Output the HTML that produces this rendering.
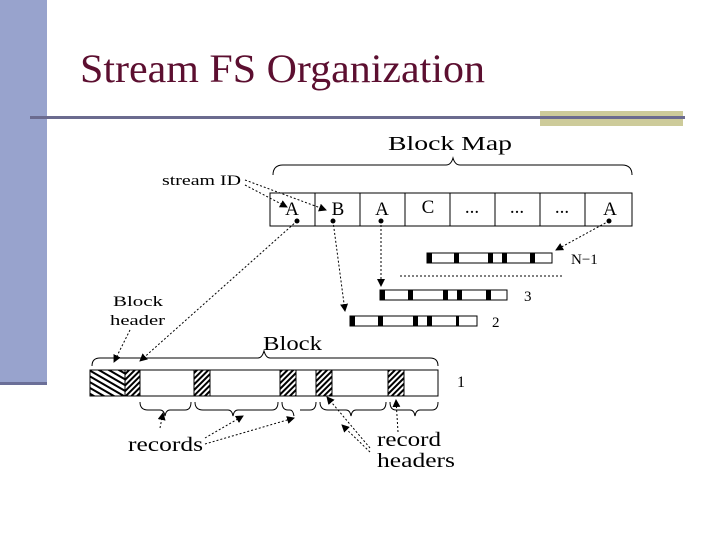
<!DOCTYPE html>
<html><head><meta charset="utf-8"><style>
html,body{margin:0;padding:0;background:#fff;width:720px;height:540px;overflow:hidden}
svg{display:block}
</style></head><body>
<svg width="720" height="540" viewBox="0 0 720 540" xmlns="http://www.w3.org/2000/svg" font-family="Liberation Serif, serif">
<defs>
<pattern id="h1" width="5" height="5" patternUnits="userSpaceOnUse" patternTransform="rotate(30)"><rect width="5" height="5" fill="#fff"/><rect width="5" height="2" fill="#000"/></pattern>
<pattern id="h2" width="4" height="4" patternUnits="userSpaceOnUse" patternTransform="rotate(-45)"><rect width="4" height="4" fill="#fff"/><rect width="4" height="2" fill="#000"/></pattern>
<marker id="ar" markerWidth="8" markerHeight="8" refX="7" refY="4" orient="auto" markerUnits="userSpaceOnUse"><path d="M0,0 L8,4 L0,8 z" fill="#000"/></marker>
</defs>
<rect x="0" y="0" width="47" height="385" fill="#98a3cd"/>
<rect x="0" y="382" width="47" height="3" fill="#6b6f98"/>
<text x="80" y="82" font-size="40" fill="#5c0f30" textLength="405" lengthAdjust="spacingAndGlyphs">Stream FS Organization</text>
<rect x="540" y="111" width="143" height="15" fill="#cdcb9a"/>
<rect x="30" y="116" width="655" height="3" fill="#6b6b8f"/>

<g fill="none" stroke="#000" stroke-width="1">
<path d="M273,175 Q273,165 283,165 L446,165 Q451,165 453,158 Q455,165 460,165 L622,165 Q632,165 632,175"/>
<path d="M92,366 Q92,358 100,358 L258,358 Q262,358 264,351 Q266,358 270,358 L430,358 Q438,358 438,366"/>
<path d="M140,402 Q140,410 148,410 L160,410 Q164,410 165,416 Q166,410 170,410 L185,410 Q191,410 191,402"/>
<path d="M195,402 Q195,410 203,410 L228,410 Q232,410 233,416 Q234,410 238,410 L272,410 Q278,410 278,402"/>
<path d="M282,402 Q282,410 288,410 L290,410 Q293,410 294,416"/>
<path d="M300,410 L310,410 Q316,410 316,402"/>
<path d="M320,402 Q320,410 328,410 L346,410 Q350,410 351,416 Q352,410 356,410 L380,410 Q386,410 386,402"/>
<path d="M390,402 Q390,410 396,410 L410,410 Q414,410 415,416 Q416,410 420,410 L432,410 Q438,410 438,402"/>
</g>
<text x="388" y="150" font-size="20" textLength="124" lengthAdjust="spacingAndGlyphs">Block Map</text>
<text x="162" y="185" font-size="15" textLength="79" lengthAdjust="spacingAndGlyphs">stream ID</text>

<rect x="270" y="193" width="362" height="33" fill="#fff" stroke="#000"/>
<g stroke="#000"><line x1="315" y1="193" x2="315" y2="226"/><line x1="360" y1="193" x2="360" y2="226"/><line x1="405" y1="193" x2="405" y2="226"/><line x1="450" y1="193" x2="450" y2="226"/><line x1="495" y1="193" x2="495" y2="226"/><line x1="540" y1="193" x2="540" y2="226"/><line x1="585" y1="193" x2="585" y2="226"/></g>
<g font-size="19" text-anchor="middle"><text x="292" y="215">A</text><text x="338" y="215">B</text><text x="382" y="215">A</text><text x="428" y="213">C</text><text x="472" y="213">...</text><text x="517" y="213">...</text><text x="562" y="213">...</text><text x="610" y="215">A</text></g>
<g fill="#000"><circle cx="297" cy="221" r="2.5"/><circle cx="333" cy="221" r="2.5"/><circle cx="381" cy="221" r="2.5"/><circle cx="609" cy="221" r="2.5"/></g>

<g stroke="#000" stroke-dasharray="2,2" fill="none" marker-end="url(#ar)">
<line x1="245" y1="185" x2="287" y2="207"/>
<line x1="245" y1="180" x2="326" y2="210"/>
<line x1="297" y1="221" x2="140" y2="361"/>
<line x1="333" y1="221" x2="345" y2="311"/>
<line x1="381" y1="221" x2="381" y2="286"/>
<line x1="609" y1="221" x2="556" y2="250"/>
<line x1="130" y1="330" x2="114" y2="362"/>
<line x1="160" y1="428" x2="163" y2="413"/>
<line x1="205" y1="438" x2="243" y2="416"/>
<line x1="205" y1="444" x2="294" y2="418"/>
<line x1="370" y1="448" x2="327" y2="397"/>
<line x1="370" y1="452" x2="342" y2="425"/>
<line x1="398" y1="432" x2="396" y2="400"/>
</g>
<line x1="400" y1="276" x2="563" y2="276" stroke="#000" stroke-dasharray="2,2"/>

<g stroke="#000" fill="#fff">
<rect x="427" y="253" width="125" height="10"/>
<rect x="380" y="290" width="127" height="10"/>
<rect x="350" y="316" width="127" height="10"/>
</g>
<g fill="#000">
<rect x="427" y="253" width="5" height="10"/><rect x="454" y="253" width="5" height="10"/><rect x="488" y="253" width="5" height="10"/><rect x="502" y="253" width="5" height="10"/><rect x="530" y="253" width="5" height="10"/>
<rect x="380" y="290" width="5" height="10"/><rect x="408" y="290" width="5" height="10"/><rect x="443" y="290" width="5" height="10"/><rect x="457" y="290" width="5" height="10"/><rect x="486" y="290" width="5" height="10"/>
<rect x="350" y="316" width="5" height="10"/><rect x="378" y="316" width="5" height="10"/><rect x="413" y="316" width="5" height="10"/><rect x="427" y="316" width="5" height="10"/><rect x="456" y="316" width="3" height="10"/>
</g>
<text x="571" y="264" font-size="15">N−1</text>
<text x="524" y="301" font-size="15">3</text>
<text x="492" y="327" font-size="15">2</text>

<text x="113" y="306" font-size="15" textLength="50" lengthAdjust="spacingAndGlyphs">Block</text>
<text x="110" y="325" font-size="15" textLength="55" lengthAdjust="spacingAndGlyphs">header</text>
<text x="263" y="350" font-size="20" textLength="59" lengthAdjust="spacingAndGlyphs">Block</text>

<rect x="90" y="370" width="348" height="26" fill="#fff" stroke="#000"/>
<rect x="90" y="370" width="35" height="26" fill="url(#h1)" stroke="#000"/>
<g stroke="#000" fill="url(#h2)">
<rect x="125" y="370" width="15" height="26"/><rect x="194" y="370" width="16" height="26"/><rect x="280" y="370" width="16" height="26"/><rect x="316" y="370" width="16" height="26"/><rect x="388" y="370" width="16" height="26"/>
</g>
<text x="457" y="387" font-size="16">1</text>

<text x="128" y="451" font-size="20" textLength="75" lengthAdjust="spacingAndGlyphs">records</text>
<text x="377" y="446" font-size="20" textLength="64" lengthAdjust="spacingAndGlyphs">record</text>
<text x="377" y="467" font-size="20" textLength="78" lengthAdjust="spacingAndGlyphs">headers</text>
</svg>
</body></html>
